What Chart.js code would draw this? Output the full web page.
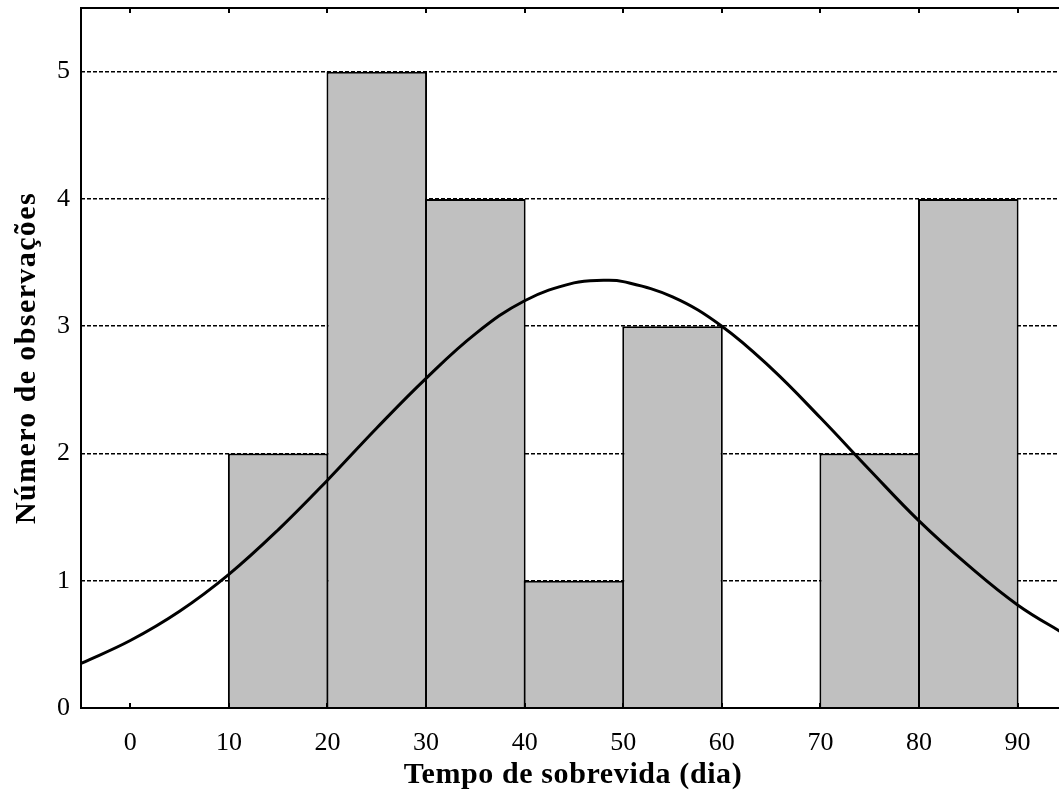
<!DOCTYPE html>
<html lang="pt">
  <head>
    <meta http-equiv="content-type" content="text/html; charset=UTF-8">
    <title>Tempo de sobrevida</title>
    <style>
      body { margin: 0; background: #fff; }
      canvas { display: block; }
    </style>
  </head>
  <body>
    <canvas id="chart" width="1059" height="801"></canvas>
  </body>
  <script src="https://cdn.jsdelivr.net/npm/chart.js"></script>
  <script>
    /* Histogram bins (midpoints, width 10) and counts */
    const binMid = [5, 15, 25, 35, 45, 55, 65, 75, 85];
    const counts = [0, 2, 5, 4, 1, 3, 0, 2, 4];

    /* Fitted normal curve */
    const curveX = [-5, 0, 5, 10, 15, 20, 25, 30, 35, 40, 45, 48, 50, 55, 60, 65, 70, 75, 80, 85, 90, 95];
    const curveY = [0.35, 0.53, 0.76, 1.05, 1.40, 1.79, 2.20, 2.59, 2.94, 3.20, 3.34, 3.36, 3.35, 3.23, 3.00, 2.67, 2.28, 1.87, 1.47, 1.12, 0.81, 0.57];

    /* Tick labels and axis titles */
    const xTicks = [0, 10, 20, 30, 40, 50, 60, 70, 80, 90];
    const yTicks = [0, 1, 2, 3, 4, 5];
    const xTitle = 'Tempo de sobrevida (dia)';
    const yTitle = 'Número de observações';

    const serif = 'Liberation Serif, Times New Roman, serif';

    /* Frame, inward tick marks and the two axis titles */
    const framePlugin = {
      id: 'frame',
      afterDatasetsDraw(chart) {
        const {ctx, chartArea: a, scales: {x}} = chart;
        ctx.save();
        ctx.strokeStyle = '#000';
        ctx.lineWidth = 2;
        ctx.beginPath();
        ctx.moveTo(a.right + 2, a.top);
        ctx.lineTo(a.left, a.top);
        ctx.lineTo(a.left, a.bottom);
        ctx.lineTo(a.right + 2, a.bottom);
        ctx.stroke();
        xTicks.forEach(v => {
          const px = Math.round(x.getPixelForValue(v));
          ctx.beginPath();
          ctx.moveTo(px, a.top);
          ctx.lineTo(px, a.top + 5);
          ctx.moveTo(px, a.bottom);
          ctx.lineTo(px, a.bottom - 5);
          ctx.stroke();
        });

        ctx.fillStyle = '#000';
        ctx.font = 'bold 30px ' + serif;
        ctx.textAlign = 'center';
        ctx.textBaseline = 'middle';
        ctx.letterSpacing = '0.6px';
        ctx.fillText(xTitle, (a.left + a.right) / 2 + 3, 775);
        ctx.letterSpacing = '1.4px';
        ctx.translate(27, (a.top + a.bottom) / 2);
        ctx.rotate(-Math.PI / 2);
        ctx.fillText(yTitle, 0, 0);
        ctx.letterSpacing = '0px';
        ctx.restore();
      }
    };

    new Chart(document.getElementById('chart'), {
      data: {
        datasets: [
          {
            type: 'line',
            data: curveX.map((v, i) => ({x: v, y: curveY[i]})),
            borderColor: '#000',
            borderWidth: 3,
            pointRadius: 0,
            tension: 0.4,
            fill: false,
            order: 0
          },
          {
            type: 'bar',
            data: binMid.map((v, i) => ({x: v, y: counts[i]})),
            backgroundColor: '#c0c0c0',
            borderColor: '#000',
            borderWidth: {top: 2, left: 2, right: 2, bottom: 0},
            borderSkipped: false,
            barPercentage: 1.02,
            categoryPercentage: 1,
            order: 1
          }
        ]
      },
      options: {
        responsive: false,
        animation: false,
        devicePixelRatio: 1,
        layout: { padding: { top: 8, right: 0, left: 0, bottom: 0 } },
        plugins: {
          legend: { display: false },
          tooltip: { enabled: false }
        },
        scales: {
          x: {
            type: 'linear',
            min: -5,
            max: 94.2,
            offset: false,
            afterBuildTicks: s => { s.ticks = xTicks.map(v => ({value: v})); },
            afterFit: s => { s.height = 93; s.paddingLeft = 0; s.paddingRight = 0; },
            grid: { display: false, offset: false },
            border: { display: false },
            ticks: {
              color: '#000',
              padding: 12,
              maxRotation: 0,
              font: { family: serif, size: 26 }
            }
          },
          y: {
            min: 0,
            max: 5.5,
            afterBuildTicks: s => { s.ticks = yTicks.map(v => ({value: v})); },
            afterFit: s => { s.width = 81; s.paddingTop = 0; s.paddingBottom = 0; },
            grid: {
              color: '#000',
              lineWidth: 1.5,
              drawTicks: false
            },
            border: { display: false, dash: [4, 2] },
            ticks: {
              color: '#000',
              padding: 11,
              font: { family: serif, size: 26 }
            }
          }
        }
      },
      plugins: [framePlugin]
    });
  </script>
</html>
